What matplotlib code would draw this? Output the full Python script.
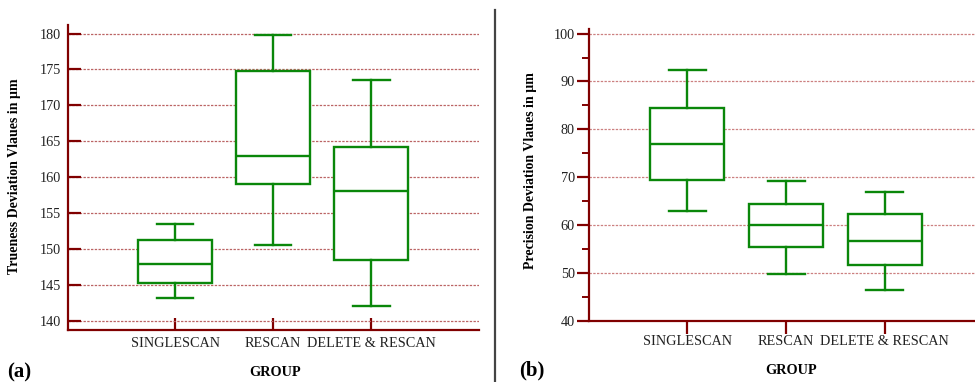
import matplotlib
matplotlib.use("Agg")
import matplotlib.pyplot as plt
from matplotlib.ticker import MultipleLocator

plt.rcParams['font.family'] = ['Liberation Serif', 'DejaVu Serif']

groups = ["SINGLESCAN", "RESCAN", "DELETE & RESCAN"]

# Trueness (panel a): whisker low, Q1, median, Q3, whisker high
true_whislo = [143.1, 150.5, 142.0]
true_q1 = [145.2, 159.0, 148.5]
true_med = [147.9, 163.0, 158.0]
true_q3 = [151.3, 174.8, 164.2]
true_whishi = [153.5, 179.8, 173.5]

# Precision (panel b)
prec_whislo = [62.9, 49.8, 46.4]
prec_q1 = [69.5, 55.5, 51.7]
prec_med = [77.0, 60.0, 56.6]
prec_q3 = [84.5, 64.3, 62.3]
prec_whishi = [92.3, 69.2, 66.8]

SPINE = '#800000'
GREEN = '#0a870a'

fig = plt.figure(figsize=(9.75, 3.82), dpi=100)

def make_stats(lo, q1, med, q3, hi):
    return [dict(whislo=a, q1=b, med=c, q3=d, whishi=e, fliers=[], label=g)
            for a, b, c, d, e, g in zip(lo, q1, med, q3, hi, groups)]

def draw(ax, stats, gridcolor):
    ax.bxp(stats, positions=[1, 2, 3], widths=0.75, capwidths=0.375,
           patch_artist=True, showfliers=False,
           boxprops=dict(facecolor='white', edgecolor=GREEN, linewidth=1.7),
           medianprops=dict(color=GREEN, linewidth=1.7),
           whiskerprops=dict(color=GREEN, linewidth=1.7),
           capprops=dict(color=GREEN, linewidth=1.7), zorder=3)
    ax.set_axisbelow(True)
    ax.yaxis.grid(True, color=gridcolor, linestyle=(0, (1.9, 1.1)), linewidth=0.9)
    ax.xaxis.grid(False)
    for s in ['top', 'right']:
        ax.spines[s].set_visible(False)
    for s in ['left', 'bottom']:
        ax.spines[s].set_color(SPINE)
        ax.spines[s].set_linewidth(1.6)
    ax.set_xticks([1, 2, 3])
    ax.set_xticklabels(groups, fontsize=10.3)
    ax.tick_params(colors=SPINE, labelcolor='#222222', width=1.6)
    ax.tick_params(axis='y', labelsize=10.3)

# Panel (a)
ax1 = fig.add_axes([68/975, 1-330/382, 411/975, 305/382])
draw(ax1, make_stats(true_whislo, true_q1, true_med, true_q3, true_whishi), '#bb6464')
ax1.set_xlim(-0.092, 4.10)
ax1.set_ylim(138.7, 181.2)
ax1.yaxis.set_major_locator(MultipleLocator(5))
ax1.tick_params(axis='both', direction='in', length=9)
ax1.tick_params(axis='y', pad=5)
ax1.tick_params(axis='x', pad=5)
ax1.set_ylabel("Trueness Deviation Vlaues in µm", fontsize=10, fontweight='bold')
ax1.yaxis.set_label_coords(-47/411, (330-176)/305)

# Panel (b)
ax2 = fig.add_axes([588.7/975, 1-320.7/382, 386.3/975, 291.4/382])
draw(ax2, make_stats(prec_whislo, prec_q1, prec_med, prec_q3, prec_whishi), '#cc8080')
ax2.set_xlim(0.0, 3.915)
ax2.set_ylim(40, 100.9)
ax2.yaxis.set_major_locator(MultipleLocator(10))
ax2.yaxis.set_minor_locator(MultipleLocator(5))
ax2.tick_params(axis='both', which='major', direction='out', length=9)
ax2.tick_params(axis='y', which='minor', direction='out', length=5, color=SPINE, width=1.4)
ax2.tick_params(axis='y', pad=1)
ax2.tick_params(axis='x', pad=1.5)
ax2.set_ylabel("Precision Deviation Vlaues in µm", fontsize=10, fontweight='bold')
ax2.yaxis.set_label_coords(-(588.7-537)/386.3, (320.7-171)/291.4)

# Text labels
fig.text(275/975, 1-373/382, "GROUP", ha='center', va='center', fontsize=10.3, fontweight='bold')
fig.text(791/975, 1-371/382, "GROUP", ha='center', va='center', fontsize=10.3, fontweight='bold')
fig.text(7/975, 1-372/382, "(a)", ha='left', va='center', fontsize=15, fontweight='bold')
fig.text(519/975, 1-370/382, "(b)", ha='left', va='center', fontsize=15, fontweight='bold')

# Divider
fig.add_artist(plt.Line2D([495/975, 495/975], [0, 1-10/382], color='#444444', linewidth=1.6))

fig.savefig("out.png", dpi=100)
